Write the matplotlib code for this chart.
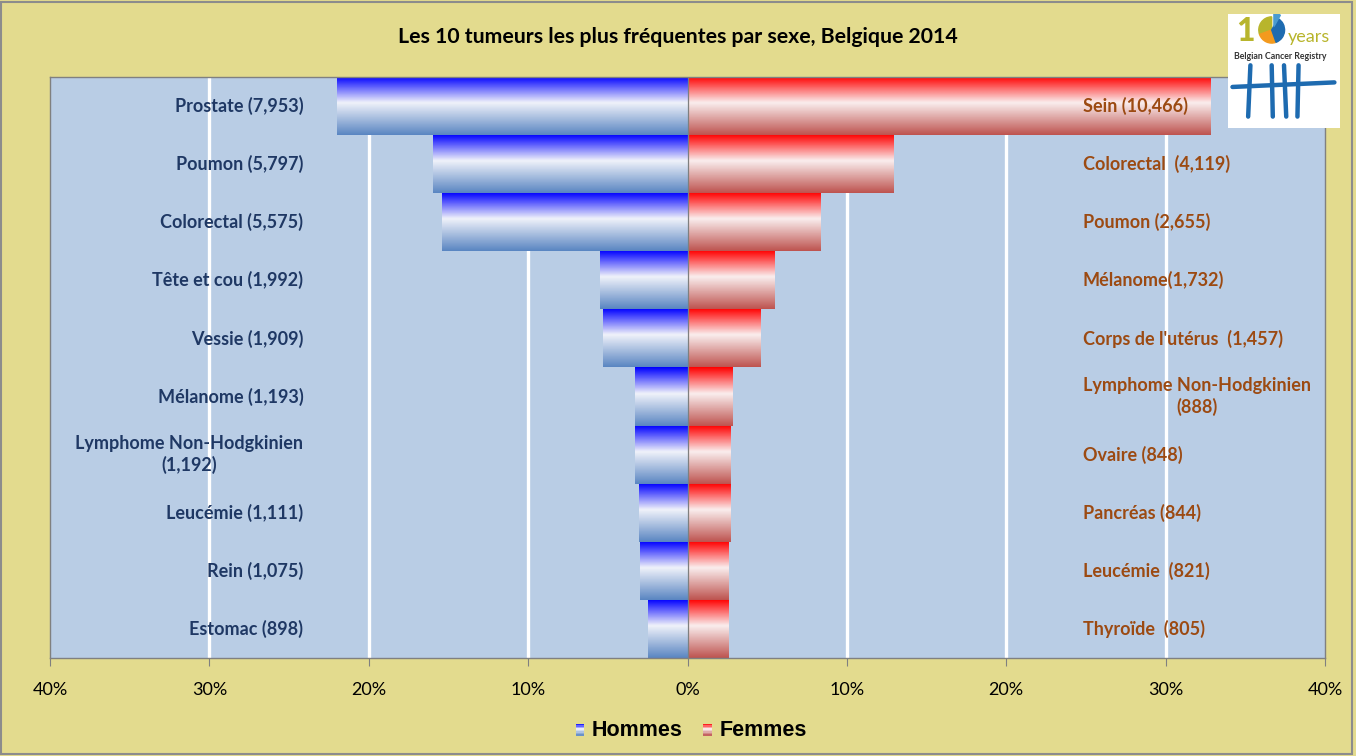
import numpy as np
import matplotlib
matplotlib.use("Agg")
import matplotlib.pyplot as plt
from matplotlib.colors import LinearSegmentedColormap
from matplotlib.patches import Rectangle, Wedge
from matplotlib.legend_handler import HandlerBase

# donnees (en % du total par sexe)
men_labels = ["Prostate (7,953)", "Poumon (5,797)", "Colorectal (5,575)", "Tête et cou (1,992)",
              "Vessie (1,909)", "Mélanome (1,193)", "Lymphome Non-Hodgkinien\n(1,192)",
              "Leucémie (1,111)", "Rein (1,075)", "Estomac (898)"]
men_pct = [22.0, 16.0, 15.4, 5.5, 5.28, 3.3, 3.3, 3.07, 2.97, 2.48]

women_labels = ["Sein (10,466)", "Colorectal  (4,119)", "Poumon (2,655)", "Mélanome(1,732)",
                "Corps de l'utérus  (1,457)", "Lymphome Non-Hodgkinien\n(888)", "Ovaire (848)",
                "Pancréas (844)", "Leucémie  (821)", "Thyroïde  (805)"]
women_pct = [32.8, 12.9, 8.3, 5.43, 4.57, 2.78, 2.66, 2.65, 2.57, 2.52]

ticks = [-40, -30, -20, -10, 0, 10, 20, 30, 40]
tick_labels = ["40%", "30%", "20%", "10%", "0%", "10%", "20%", "30%", "40%"]

title = "Les 10 tumeurs les plus fréquentes par sexe, Belgique 2014"

BG = "#E3DB8E"
PLOT_BG = "#B9CDE5"
MEN_TXT = "#1F3864"
WOMEN_TXT = "#9C4A12"

plt.rcParams['font.family'] = ['Lato', 'DejaVu Sans']

cmap_blue = LinearSegmentedColormap.from_list(
    "b", [(0, "#0000FF"), (0.45, "#F0F2FA"), (1, "#5A86C2")])
cmap_red = LinearSegmentedColormap.from_list(
    "r", [(0, "#FF0000"), (0.45, "#FAEEEE"), (1, "#BE5450")])
grad = np.linspace(0, 1, 100).reshape(-1, 1)

fig = plt.figure(figsize=(13.56, 7.56), dpi=100, facecolor=BG)
fig.patches.append(Rectangle((0.001, 0.002), 0.996, 0.996, transform=fig.transFigure,
                             fill=False, edgecolor="#8C8C8C", lw=1.5))
ax = fig.add_axes([50 / 1356, 1 - 658 / 756, 1275 / 1356, 581 / 756])
ax.set_facecolor(PLOT_BG)

y = np.arange(len(men_pct))


def gradient_bars(values, cmap):
    rects = ax.barh(y, values, height=1.0, color="none", edgecolor="none", zorder=2)
    for r in rects:
        x0 = min(r.get_x(), r.get_x() + r.get_width())
        x1 = max(r.get_x(), r.get_x() + r.get_width())
        yc = r.get_y()
        im = ax.imshow(grad, cmap=cmap, aspect="auto", interpolation="bilinear",
                       extent=[x0, x1, yc + r.get_height(), yc], origin="upper", zorder=2)
        im.set_clip_path(r)


gradient_bars(-np.array(men_pct), cmap_blue)
gradient_bars(np.array(women_pct), cmap_red)

ax.set_xlim(-40, 40)
ax.set_ylim(len(men_pct) - 0.5, -0.5)
ax.set_aspect("auto")

for t in [-30, -20, -10, 10, 20, 30]:
    ax.axvline(t, color="white", lw=2.4, zorder=1)
ax.axvline(0, color="#7F7F7F", lw=0.9, zorder=3)

for i, lab in enumerate(men_labels):
    ax.text(-24.1, i, lab, ha="right", va="center", multialignment="center", linespacing=1.3,
            color=MEN_TXT, fontsize=13, fontweight="bold", zorder=4)
for i, lab in enumerate(women_labels):
    ax.text(24.8, i, lab, ha="left", va="center", multialignment="center", linespacing=1.3,
            color=WOMEN_TXT, fontsize=13, fontweight="bold", zorder=4)

ax.set_xticks(ticks)
ax.set_xticklabels(tick_labels, fontsize=13)
ax.set_yticks([])
ax.tick_params(axis="x", direction="out", length=6, color="#808080", pad=11)
for s in ax.spines.values():
    s.set_color("#808080")
    s.set_linewidth(1.0)

fig.text(0.5, 1 - 37 / 756, title, ha="center", va="center", fontsize=15.3, fontweight="bold")


class GradHandler(HandlerBase):
    def __init__(self, cmap):
        super().__init__()
        self.cmap = cmap

    def create_artists(self, legend, orig_handle, xdescent, ydescent, width, height, fontsize, trans):
        n = 8
        w = 6
        x0 = width - w
        h = height * 0.8
        y0 = -ydescent + 0.05 * height
        arts = []
        for k in range(n):
            c = self.cmap(1 - (k + 0.5) / n)
            arts.append(Rectangle((x0, y0 + k * h / n), w, h / n, facecolor=c,
                                  edgecolor="none", transform=trans))
        return arts


h_men = Rectangle((0, 0), 1, 1)
h_women = Rectangle((0, 0), 1, 1)
fig.legend([h_men, h_women], ["Hommes", "Femmes"], loc="center",
           bbox_to_anchor=(0.5 + 11 / 1356, 1 - 731 / 756),
           ncol=2, frameon=False, handler_map={h_men: GradHandler(cmap_blue), h_women: GradHandler(cmap_red)},
           prop={"family": "Liberation Sans", "weight": "bold", "size": 15.5},
           handlelength=0.6, handletextpad=0.35, columnspacing=0.75)

# logo
lg = fig.add_axes([1228 / 1356, 1 - 128 / 756, 112 / 1356, 114 / 756])
lg.set_xlim(0, 1)
lg.set_ylim(0, 1)
lg.set_facecolor("white")
lg.set_xticks([])
lg.set_yticks([])
for s in lg.spines.values():
    s.set_visible(False)
olive = "#B8B52C"
blue = "#1E6BB0"
lg.text(0.07, 0.85, "1", fontsize=23, fontweight="black", color=olive, ha="left", va="center")
lg.add_patch(Wedge((0.39, 0.86), 0.115, 90, 200, color=olive))
lg.add_patch(Wedge((0.39, 0.86), 0.115, 200, 290, color="#F39A1E"))
lg.add_patch(Wedge((0.39, 0.86), 0.115, 290, 60, color=blue))
lg.add_patch(Wedge((0.41, 0.89), 0.115, 60, 90, color="#4A9BD1"))
lg.text(0.53, 0.80, "years", fontsize=13, color=olive, ha="left", va="center")
lg.text(0.05, 0.625, "Belgian Cancer Registry", fontsize=6.3, fontweight="bold", color="#333333",
        ha="left", va="center")
for x_top, x_bot in [(0.2, 0.18), (0.39, 0.4), (0.5, 0.52), (0.63, 0.62)]:
    lg.plot([x_top, x_bot], [0.55, 0.1], color=blue, lw=3.2, solid_capstyle="round")
lg.plot([0.04, 0.95], [0.36, 0.4], color=blue, lw=3.2, solid_capstyle="round")

fig.savefig("out.png", dpi=100, facecolor=BG)
